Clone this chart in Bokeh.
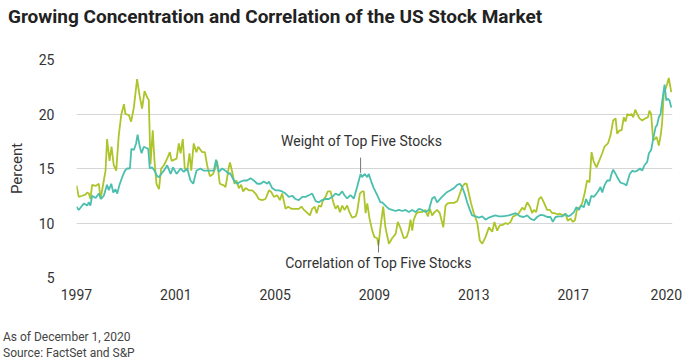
from bokeh.plotting import figure
from bokeh.layouts import column
from bokeh.models import Range1d, FixedTicker, Label, Div
from bokeh.embed import file_html
from bokeh.resources import INLINE

# ---- data ----
weight_dates = [1997.00, 1997.09, 1997.16, 1997.30, 1997.43, 1997.50, 1997.56, 1997.63, 1997.77, 1997.90,
                1997.99, 1998.10, 1998.23, 1998.30, 1998.40, 1998.48, 1998.57, 1998.64, 1998.73, 1998.84,
                1998.95, 1999.04, 1999.15, 1999.21, 1999.31, 1999.40, 1999.46, 1999.54, 1999.62, 1999.71,
                1999.79, 1999.89, 1999.95, 2000.05, 2000.14, 2000.25, 2000.32, 2000.41, 2000.52, 2000.65,
                2000.79, 2000.89, 2001.03, 2001.19, 2001.32, 2001.46, 2001.59, 2001.70, 2001.83, 2001.99,
                2002.13, 2002.26, 2002.40, 2002.53, 2002.62, 2002.73, 2002.87, 2003.00, 2003.13, 2003.18,
                2003.34, 2003.47, 2003.61, 2003.74, 2003.87, 2004.01, 2004.14, 2004.28, 2004.41, 2004.54,
                2004.68, 2004.75, 2004.88, 2005.01, 2005.15, 2005.28, 2005.42, 2005.55, 2005.69, 2005.82,
                2005.95, 2006.09, 2006.22, 2006.36, 2006.49, 2006.63, 2006.76, 2006.89, 2007.03, 2007.16,
                2007.30, 2007.43, 2007.57, 2007.70, 2007.79, 2007.90, 2008.03, 2008.17, 2008.30, 2008.44,
                2008.50, 2008.60, 2008.71, 2008.77, 2008.87, 2008.97, 2009.11, 2009.24, 2009.31, 2009.44,
                2009.58, 2009.71, 2009.85, 2009.98, 2010.12, 2010.25, 2010.38, 2010.52, 2010.65, 2010.79,
                2010.92, 2011.05, 2011.19, 2011.32, 2011.42, 2011.52, 2011.66, 2011.79, 2011.93, 2012.06,
                2012.20, 2012.33, 2012.44, 2012.53, 2012.63, 2012.73, 2012.84, 2012.93, 2013.07, 2013.20,
                2013.34, 2013.47, 2013.61, 2013.74, 2013.87, 2014.01, 2014.14, 2014.28, 2014.41, 2014.54,
                2014.68, 2014.81, 2014.88, 2015.01, 2015.15, 2015.28, 2015.42, 2015.55, 2015.69, 2015.82,
                2015.95, 2016.09, 2016.18, 2016.29, 2016.42, 2016.56, 2016.69, 2016.79, 2016.89, 2017.03,
                2017.13, 2017.23, 2017.32, 2017.43, 2017.52, 2017.63, 2017.73, 2017.83, 2017.94, 2018.03,
                2018.10, 2018.17, 2018.26, 2018.37, 2018.48, 2018.53, 2018.61, 2018.71, 2018.80, 2018.91,
                2019.04, 2019.15, 2019.20, 2019.28, 2019.38, 2019.47, 2019.58, 2019.69, 2019.78, 2019.87,
                2019.98, 2020.05, 2020.14, 2020.22, 2020.32, 2020.38, 2020.45, 2020.52, 2020.58, 2020.68,
                2020.75, 2020.81, 2020.88, 2020.95]
weight_vals = [11.5, 11.2, 11.4, 11.8, 11.6, 11.9, 11.6, 12.5, 12.3, 12.7,
               12.2, 12.5, 13.5, 13.0, 13.6, 12.8, 13.1, 12.7, 13.5, 14.2,
               14.8, 15.0, 15.0, 16.8, 16.7, 17.3, 18.1, 17.1, 16.4, 17.0,
               16.9, 16.8, 15.0, 15.1, 14.8, 14.3, 14.2, 14.5, 14.8, 15.3,
               14.5, 15.1, 14.5, 15.0, 14.7, 15.0, 13.9, 13.6, 14.8, 15.0,
               14.8, 14.8, 14.8, 14.8, 15.8, 14.7, 15.0, 14.8, 14.5, 14.6,
               13.9, 13.6, 13.8, 13.9, 13.9, 14.1, 13.9, 13.6, 13.6, 13.8,
               13.6, 13.8, 13.2, 13.0, 13.0, 12.9, 12.7, 12.4, 12.5, 12.2,
               12.1, 12.4, 12.4, 12.55, 12.7, 12.0, 11.9, 12.1, 12.2, 12.2,
               12.4, 12.7, 12.55, 12.9, 12.55, 12.25, 12.55, 12.25, 13.3, 14.5,
               14.2, 14.5, 14.2, 14.5, 13.8, 13.2, 12.55, 11.9, 11.9, 11.6,
               11.3, 11.2, 11.1, 11.2, 11.1, 11.2, 11.0, 11.2, 11.0, 11.3,
               11.2, 11.0, 11.2, 12.25, 12.4, 11.9, 12.25, 12.55, 12.85, 13.0,
               13.2, 13.5, 13.6, 13.3, 12.7, 11.9, 11.2, 10.7, 10.6, 10.5,
               10.6, 10.3, 10.5, 10.6, 10.7, 10.6, 10.6, 10.65, 10.7, 10.8,
               10.9, 10.7, 10.6, 10.55, 10.7, 10.4, 10.25, 10.55, 10.75, 10.7,
               10.55, 10.55, 10.1, 10.55, 10.6, 10.6, 10.85, 10.6, 10.7, 11.0,
               11.45, 11.2, 11.6, 11.45, 12.2, 11.6, 12.5, 12.4, 12.7, 13.0,
               13.3, 12.8, 13.45, 13.9, 13.9, 14.4, 14.9, 14.5, 14.1, 13.7,
               13.6, 13.45, 13.9, 14.5, 14.8, 14.7, 14.8, 15.0, 14.8, 15.3,
               15.6, 16.4, 16.7, 17.7, 18.8, 19.0, 19.7, 20.0, 21.1, 22.7,
               21.25, 21.4, 21.25, 20.6]

corr_dates = [1997.00, 1997.09, 1997.23, 1997.36, 1997.43, 1997.50, 1997.56, 1997.63, 1997.77, 1997.90,
              1997.97, 1998.10, 1998.17, 1998.23, 1998.33, 1998.41, 1998.50, 1998.60, 1998.70, 1998.80,
              1998.91, 1998.97, 1999.11, 1999.20, 1999.31, 1999.44, 1999.54, 1999.64, 1999.74, 1999.85,
              1999.91, 1999.98, 2000.07, 2000.14, 2000.22, 2000.32, 2000.41, 2000.52, 2000.65, 2000.76,
              2000.83, 2001.03, 2001.12, 2001.19, 2001.28, 2001.36, 2001.46, 2001.55, 2001.62, 2001.72,
              2001.83, 2001.90, 2002.06, 2002.17, 2002.26, 2002.37, 2002.50, 2002.60, 2002.66, 2002.77,
              2002.93, 2003.00, 2003.07, 2003.13, 2003.18, 2003.27, 2003.36, 2003.44, 2003.54, 2003.63,
              2003.71, 2003.81, 2003.94, 2004.08, 2004.21, 2004.34, 2004.48, 2004.61, 2004.75, 2004.84,
              2004.95, 2005.08, 2005.19, 2005.28, 2005.42, 2005.52, 2005.66, 2005.82, 2005.95, 2006.06,
              2006.16, 2006.26, 2006.40, 2006.49, 2006.59, 2006.67, 2006.76, 2006.85, 2006.93, 2007.03,
              2007.12, 2007.23, 2007.34, 2007.43, 2007.52, 2007.61, 2007.70, 2007.79, 2007.90, 2007.99,
              2008.10, 2008.24, 2008.30, 2008.41, 2008.50, 2008.57, 2008.64, 2008.71, 2008.80, 2008.91,
              2009.00, 2009.11, 2009.16, 2009.24, 2009.35, 2009.44, 2009.58, 2009.71, 2009.85, 2009.94,
              2010.05, 2010.18, 2010.29, 2010.38, 2010.45, 2010.52, 2010.58, 2010.69, 2010.79, 2010.92,
              2011.05, 2011.15, 2011.23, 2011.32, 2011.42, 2011.52, 2011.63, 2011.77, 2011.86, 2011.95,
              2012.06, 2012.20, 2012.33, 2012.44, 2012.53, 2012.63, 2012.71, 2012.80, 2012.89, 2013.00,
              2013.14, 2013.24, 2013.34, 2013.47, 2013.61, 2013.74, 2013.83, 2013.94, 2014.05, 2014.14,
              2014.28, 2014.37, 2014.48, 2014.58, 2014.68, 2014.81, 2014.95, 2015.04, 2015.15, 2015.26,
              2015.35, 2015.42, 2015.51, 2015.62, 2015.71, 2015.82, 2015.95, 2016.06, 2016.16, 2016.25,
              2016.36, 2016.46, 2016.60, 2016.69, 2016.78, 2016.89, 2016.99, 2017.07, 2017.16, 2017.27,
              2017.36, 2017.46, 2017.56, 2017.66, 2017.74, 2017.83, 2017.94, 2018.03, 2018.17, 2018.26,
              2018.40, 2018.50, 2018.61, 2018.71, 2018.77, 2018.87, 2018.95, 2019.04, 2019.11, 2019.18,
              2019.27, 2019.35, 2019.42, 2019.50, 2019.58, 2019.67, 2019.78, 2019.91, 2020.01, 2020.07,
              2020.14, 2020.22, 2020.29, 2020.36, 2020.45, 2020.52, 2020.58, 2020.65, 2020.72, 2020.79,
              2020.85, 2020.95]
corr_vals = [13.45, 12.4, 12.5, 12.6, 12.8, 12.7, 12.2, 13.5, 13.4, 13.6,
             12.2, 13.9, 14.8, 17.7, 15.7, 17.0, 15.3, 14.8, 18.0, 19.9,
             20.9, 20.0, 19.9, 19.3, 20.6, 23.2, 21.7, 20.5, 22.1, 21.5,
             21.3, 15.4, 18.5, 15.7, 13.6, 13.1, 15.0, 15.3, 15.9, 16.5,
             15.7, 15.9, 17.3, 16.4, 17.7, 15.0, 14.8, 16.4, 14.8, 17.3,
             16.5, 17.0, 16.5, 16.5, 15.3, 14.3, 14.5, 15.1, 15.7, 13.6,
             13.45, 13.3, 14.2, 15.1, 15.55, 14.7, 13.6, 13.9, 13.2, 13.5,
             12.9, 13.2, 13.0, 13.0, 12.7, 12.2, 12.1, 12.2, 13.0, 12.85,
             12.4, 12.55, 12.1, 12.7, 11.3, 11.5, 11.3, 11.3, 11.3, 11.5,
             11.2, 11.0, 10.7, 11.3, 11.5, 10.9, 11.6, 11.5, 12.1, 12.4,
             12.9, 12.9, 11.9, 11.3, 11.6, 11.0, 11.6, 11.2, 11.6, 11.0,
             10.5, 10.6, 11.0, 12.7, 12.9, 12.9, 10.9, 11.8, 10.4, 9.3,
             8.7, 8.6, 7.95, 9.6, 11.5, 9.6, 8.1, 8.6, 9.0, 10.1,
             9.5, 8.6, 8.7, 9.3, 10.3, 9.3, 10.3, 10.9, 11.0, 11.0,
             11.2, 10.6, 11.3, 10.7, 11.0, 11.2, 10.9, 9.6, 11.6, 11.8,
             11.85, 11.85, 12.0, 12.7, 13.3, 13.6, 13.6, 12.7, 11.8, 10.9,
             10.0, 8.4, 8.1, 8.7, 9.6, 9.2, 10.1, 9.3, 9.8, 9.8,
             10.0, 9.9, 10.1, 10.6, 10.7, 10.9, 11.4, 11.2, 11.9, 11.5,
             10.9, 11.2, 11.0, 12.2, 12.4, 11.9, 11.2, 11.2, 10.9, 10.9,
             10.8, 10.85, 10.7, 10.85, 10.2, 10.4, 10.1, 10.25, 11.3, 11.45,
             11.8, 12.7, 13.9, 13.75, 16.5, 15.6, 15.1, 15.6, 16.4, 17.0,
             17.3, 18.0, 19.4, 19.6, 18.2, 18.5, 18.5, 19.7, 19.3, 20.0,
             19.9, 20.0, 19.7, 20.4, 20.0, 19.6, 19.4, 19.6, 19.7, 20.3,
             20.0, 17.6, 17.7, 17.9, 17.1, 18.0, 19.1, 21.9, 22.3, 22.8,
             23.3, 22.0]

y_ticks = [5, 10, 15, 20, 25]
x_tick_labels = ["1997", "2001", "2005", "2009", "2013", "2017", "2020"]
x_tick_pos = [1997, 2001, 2005, 2009, 2013, 2017, 2020.75]

title_text = "Growing Concentration and Correlation of the US Stock Market"
note_text = "As of December 1, 2020"
source_text = "Source: FactSet and S&P"
weight_label = "Weight of Top Five Stocks"
corr_label = "Correlation of Top Five Stocks"

TEAL = "#4bbfae"
LIME = "#aec42b"
FONT = "Roboto"
TXT = "#333333"

p = figure(width=690, height=282, output_backend="svg", toolbar_location=None,
           x_range=Range1d(1997, 2021), y_range=Range1d(5, 25),
           min_border_left=76, min_border_right=18, min_border_top=19, min_border_bottom=45,
           margin=0)

p.outline_line_color = None
p.background_fill_color = "white"
p.border_fill_color = "white"

p.xgrid.grid_line_color = None
p.ygrid.grid_line_color = "#d6d6d6"
p.ygrid.grid_line_width = 1
p.yaxis.ticker = FixedTicker(ticks=y_ticks)
p.xaxis.ticker = FixedTicker(ticks=x_tick_pos)
p.xaxis.major_label_overrides = {pos: lab for pos, lab in zip(x_tick_pos, x_tick_labels)}

for ax in (p.xaxis[0], p.yaxis[0]):
    ax.axis_line_color = None
    ax.major_tick_line_color = None
    ax.minor_tick_line_color = None
    ax.major_tick_out = 0
    ax.major_tick_in = 0
    ax.minor_tick_out = 0
    ax.minor_tick_in = 0
    ax.major_label_text_font = FONT
    ax.major_label_text_font_size = "14px"
    ax.major_label_text_color = TXT

p.yaxis.major_label_standoff = 22
p.xaxis.major_label_standoff = 11
p.yaxis.axis_label = "Percent"
p.yaxis.axis_label_text_font = FONT
p.yaxis.axis_label_text_font_size = "15px"
p.yaxis.axis_label_text_font_style = "normal"
p.yaxis.axis_label_text_color = TXT
p.yaxis.axis_label_standoff = 10

p.line(corr_dates, corr_vals, line_color=LIME, line_width=1.8)
p.line(weight_dates, weight_vals, line_color=TEAL, line_width=1.8)

# callout leader lines
p.segment(x0=[2008.44, 2009.16], y0=[16.0, 8.45], x1=[2008.44, 2009.16], y1=[14.6, 7.3],
          line_color="#777777", line_width=1)
p.add_layout(Label(x=2008.48, y=17.5, text=weight_label, text_align="center",
                   text_baseline="middle", text_font=FONT, text_font_size="14px",
                   text_color=TXT))
p.add_layout(Label(x=2009.16, y=6.3, text=corr_label, text_align="center",
                   text_baseline="middle", text_font=FONT, text_font_size="14px",
                   text_color=TXT))

title_div = Div(text=title_text, width=690, height=40, margin=0,
                styles={"font-family": FONT, "font-size": "19px", "font-weight": "bold",
                        "color": "#222222", "line-height": "34px", "padding-left": "8px",
                        "white-space": "nowrap"})
foot_div = Div(text=note_text + "<br>" + source_text, width=690, height=39, margin=0,
               styles={"font-family": FONT, "font-size": "12px", "color": "#444444",
                       "line-height": "16px", "padding-top": "7px", "padding-left": "3px",
                       "white-space": "nowrap"})

layout = column(title_div, p, foot_div, spacing=0, margin=0)

open("out.html", "w").write(file_html(layout, INLINE))
